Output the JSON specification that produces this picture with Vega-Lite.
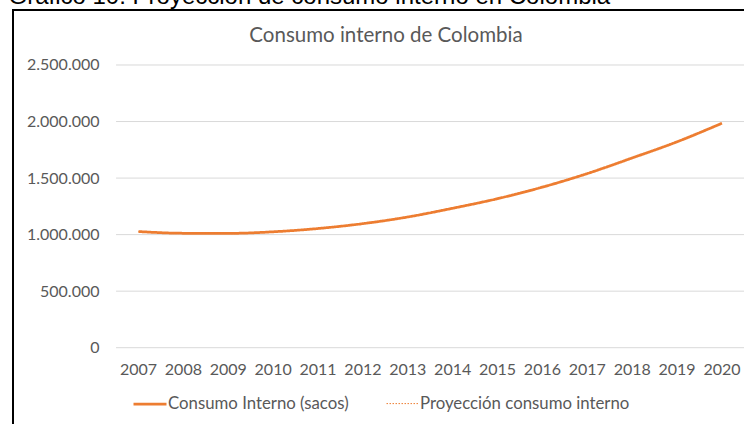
{
  "$schema": "https://vega.github.io/schema/vega-lite/v6.json",
  "width": 734,
  "height": 417,
  "autosize": {"type": "none"},
  "padding": {"left": 13, "top": 10, "right": -3, "bottom": -3},
  "background": "white",
  "config": {
    "locale": {
      "number": {"decimal": ",", "thousands": ".", "grouping": [3], "currency": ["$", ""]}
    },
    "view": {"stroke": "black", "strokeWidth": 2, "fill": "white"}
  },
  "layer": [
    {
      "data": {
        "values": [
          {"tick": 0},
          {"tick": 500000},
          {"tick": 1000000},
          {"tick": 1500000},
          {"tick": 2000000},
          {"tick": 2500000}
        ]
      },
      "mark": {"type": "rule", "color": "#d9d9d9", "strokeWidth": 1},
      "encoding": {
        "y": {
          "field": "tick",
          "type": "quantitative",
          "scale": {"domain": [-701273, 2986381], "nice": false, "zero": false},
          "axis": {
            "orient": "left",
            "offset": -86,
            "values": [0, 500000, 1000000, 1500000, 2000000, 2500000],
            "format": ",d",
            "grid": false,
            "ticks": false,
            "domain": false,
            "labelPadding": 0,
            "labelFont": "Lato",
            "labelFontSize": 16,
            "labelColor": "#595959",
            "title": "Gráfico 10: Proyección de consumo interno en Colombia",
            "titleAngle": 0,
            "titleAnchor": null,
            "titleAlign": "left",
            "titleBaseline": "alphabetic",
            "titleX": -91,
            "titleY": -7,
            "titleFont": "Liberation Sans",
            "titleFontSize": 24,
            "titleFontWeight": "normal",
            "titleColor": "black"
          }
        },
        "x": {
          "datum": "2007",
          "type": "ordinal",
          "bandPosition": 0,
          "axis": {
            "orient": "top",
            "labels": false,
            "ticks": false,
            "domain": false,
            "grid": false,
            "title": "Consumo interno de Colombia",
            "titleAnchor": null,
            "titleAlign": "center",
            "titleBaseline": "alphabetic",
            "titleX": 372.5,
            "titleY": 31,
            "titleFont": "Lato",
            "titleFontSize": 20.5,
            "titleFontWeight": "normal",
            "titleColor": "#595959"
          }
        },
        "x2": {"value": "width"}
      }
    },
    {
      "data": {
        "values": [
          {"year": "2007", "value": 1027000, "serie": "Consumo Interno (sacos)"},
          {"year": "2008", "value": 1012000, "serie": "Consumo Interno (sacos)"},
          {"year": "2009", "value": 1011000, "serie": "Consumo Interno (sacos)"},
          {"year": "2010", "value": 1025000, "serie": "Consumo Interno (sacos)"},
          {"year": "2011", "value": 1054000, "serie": "Consumo Interno (sacos)"},
          {"year": "2012", "value": 1097000, "serie": "Consumo Interno (sacos)"},
          {"year": "2013", "value": 1156000, "serie": "Consumo Interno (sacos)"},
          {"year": "2014", "value": 1233000, "serie": "Consumo Interno (sacos)"},
          {"year": "2015", "value": 1318000, "serie": "Consumo Interno (sacos)"},
          {"year": "2016", "value": 1420000, "serie": "Consumo Interno (sacos)"},
          {"year": "2017", "value": 1540000, "serie": "Consumo Interno (sacos)"},
          {"year": "2018", "value": 1678000, "serie": "Consumo Interno (sacos)"},
          {"year": "2019", "value": 1821000, "serie": "Consumo Interno (sacos)"},
          {"year": "2020", "value": 1985000, "serie": "Consumo Interno (sacos)"},
          {"year": "2007", "value": 1027000, "serie": "Proyección consumo interno"},
          {"year": "2008", "value": 1012000, "serie": "Proyección consumo interno"},
          {"year": "2009", "value": 1011000, "serie": "Proyección consumo interno"},
          {"year": "2010", "value": 1025000, "serie": "Proyección consumo interno"},
          {"year": "2011", "value": 1054000, "serie": "Proyección consumo interno"},
          {"year": "2012", "value": 1097000, "serie": "Proyección consumo interno"},
          {"year": "2013", "value": 1156000, "serie": "Proyección consumo interno"},
          {"year": "2014", "value": 1233000, "serie": "Proyección consumo interno"},
          {"year": "2015", "value": 1318000, "serie": "Proyección consumo interno"},
          {"year": "2016", "value": 1420000, "serie": "Proyección consumo interno"},
          {"year": "2017", "value": 1540000, "serie": "Proyección consumo interno"},
          {"year": "2018", "value": 1678000, "serie": "Proyección consumo interno"},
          {"year": "2019", "value": 1821000, "serie": "Proyección consumo interno"},
          {"year": "2020", "value": 1985000, "serie": "Proyección consumo interno"}
        ]
      },
      "mark": {"type": "line", "interpolate": "monotone"},
      "encoding": {
        "x": {
          "field": "year",
          "type": "ordinal",
          "bandPosition": 0.5,
          "scale": {"type": "band", "paddingInner": 0, "paddingOuter": 0, "range": [103.06, 731.4]},
          "axis": {
            "orient": "bottom",
            "offset": -79,
            "title": null,
            "grid": false,
            "ticks": false,
            "domain": false,
            "labelAngle": 0,
            "labelPadding": 13,
            "labelFont": "Lato",
            "labelFontSize": 16,
            "labelColor": "#595959"
          }
        },
        "y": {
          "field": "value",
          "type": "quantitative",
          "scale": {"domain": [-701273, 2986381], "nice": false, "zero": false},
          "axis": {
            "orient": "left",
            "offset": -86,
            "values": [0, 500000, 1000000, 1500000, 2000000, 2500000],
            "format": ",d",
            "grid": false,
            "ticks": false,
            "domain": false,
            "labelPadding": 0,
            "labelFont": "Lato",
            "labelFontSize": 16,
            "labelColor": "#595959",
            "title": "Gráfico 10: Proyección de consumo interno en Colombia",
            "titleAngle": 0,
            "titleAnchor": null,
            "titleAlign": "left",
            "titleBaseline": "alphabetic",
            "titleX": -91,
            "titleY": -7,
            "titleFont": "Liberation Sans",
            "titleFontSize": 24,
            "titleFontWeight": "normal",
            "titleColor": "black"
          }
        },
        "color": {
          "field": "serie",
          "type": "nominal",
          "scale": {
            "domain": ["Consumo Interno (sacos)", "Proyección consumo interno"],
            "range": ["#ED7D31", "#ED7D31"]
          },
          "legend": {
            "orient": "none",
            "legendX": 119,
            "legendY": 376,
            "direction": "horizontal",
            "title": null,
            "padding": 0,
            "symbolType": "stroke",
            "symbolSize": 1089,
            "labelOffset": 0,
            "labelLimit": 0,
            "columnPadding": 35,
            "labelFont": "Lato",
            "labelFontSize": 16.8,
            "labelColor": "#595959"
          }
        },
        "strokeDash": {
          "field": "serie",
          "type": "nominal",
          "scale": {
            "domain": ["Consumo Interno (sacos)", "Proyección consumo interno"],
            "range": [[1, 0], [1.5, 1.5]]
          }
        },
        "strokeWidth": {
          "field": "serie",
          "type": "nominal",
          "scale": {
            "domain": ["Consumo Interno (sacos)", "Proyección consumo interno"],
            "range": [2.75, 1]
          }
        }
      }
    }
  ],
  "resolve": {"axis": {"x": "independent"}}
}
